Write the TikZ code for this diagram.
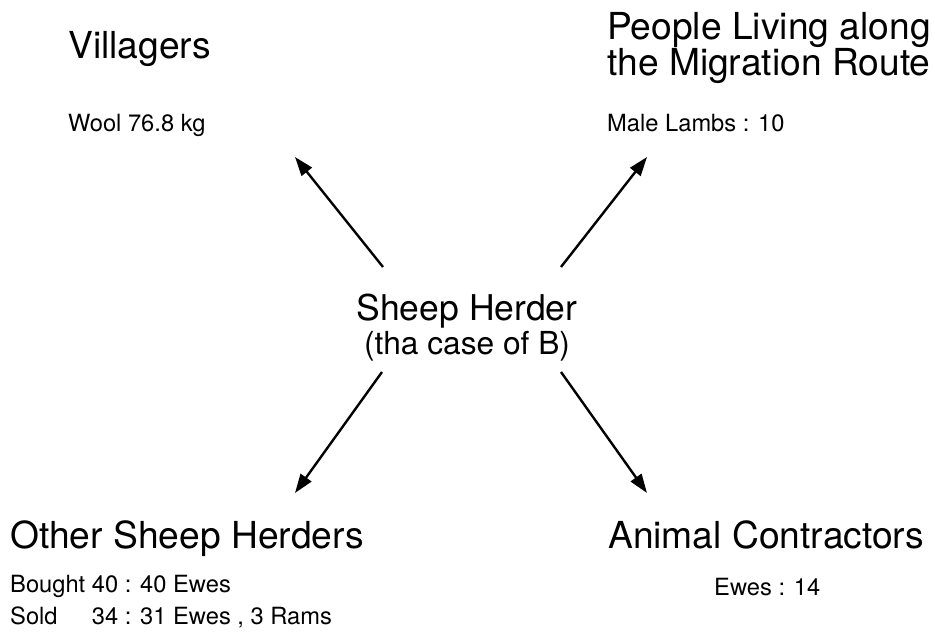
\documentclass[tikz,border=0pt]{standalone}
\usepackage{fontspec}
\setmainfont{TeX Gyre Heros}
\usetikzlibrary{arrows.meta}
\tikzset{
  big/.style={font=\fontsize{37.2}{36}\selectfont, inner sep=0pt, align=left},
  mid/.style={font=\fontsize{31.7}{33}\selectfont, inner sep=0pt},
  small/.style={font=\fontsize{23.7}{32}\selectfont, inner sep=0pt, align=left},
  flow/.style={line width=2.4pt, -{Triangle[length=19pt,width=13pt]}},
}
\begin{document}
\begin{tikzpicture}[x=1pt,y=-1pt]
\useasboundingbox (0,0) rectangle (935,635);
% centre
\node[big, font=\fontsize{35.5}{38}\selectfont, anchor=base] (herder) at (467,320) {Sheep Herder};
\node[mid, anchor=base] (case) at (467,354) {(tha case of B)};
% top left
\node[big, anchor=base west] (vill) at (68,58) {Villagers};
\node[small, anchor=base west] (wool) at (68,131) {Wool 76.8 kg};
% top right (base = last line)
\node[big, anchor=base west] (people) at (607,75) {People Living along\\the Migration Route};
\node[small, anchor=base west] (lambs) at (607,131) {Male Lambs : 10};
% bottom left (base = last line)
\node[big, anchor=base west] (other) at (10,548) {Other Sheep Herders};
\node[small, anchor=base west] (trade) at (10,624) {Bought 40 : 40 Ewes\\\rlap{Sold}\phantom{Bought}\ 34 : 31 Ewes , 3 Rams};
% bottom right
\node[big, anchor=base west] (contr) at (608,548) {Animal Contractors};
\node[small, anchor=base west] (ewes) at (714,595) {Ewes : 14};
% arrow ends
\coordinate (nwS) at (383,267);
\coordinate (nwE) at (295,157);
\coordinate (neS) at (561,267);
\coordinate (neE) at (647,157);
\coordinate (swS) at (382,372);
\coordinate (swE) at (295,493);
\coordinate (seS) at (561,372);
\coordinate (seE) at (647,493);
\draw[flow] (nwS) -- (nwE);
\draw[flow] (neS) -- (neE);
\draw[flow] (swS) -- (swE);
\draw[flow] (seS) -- (seE);
\end{tikzpicture}
\end{document}
